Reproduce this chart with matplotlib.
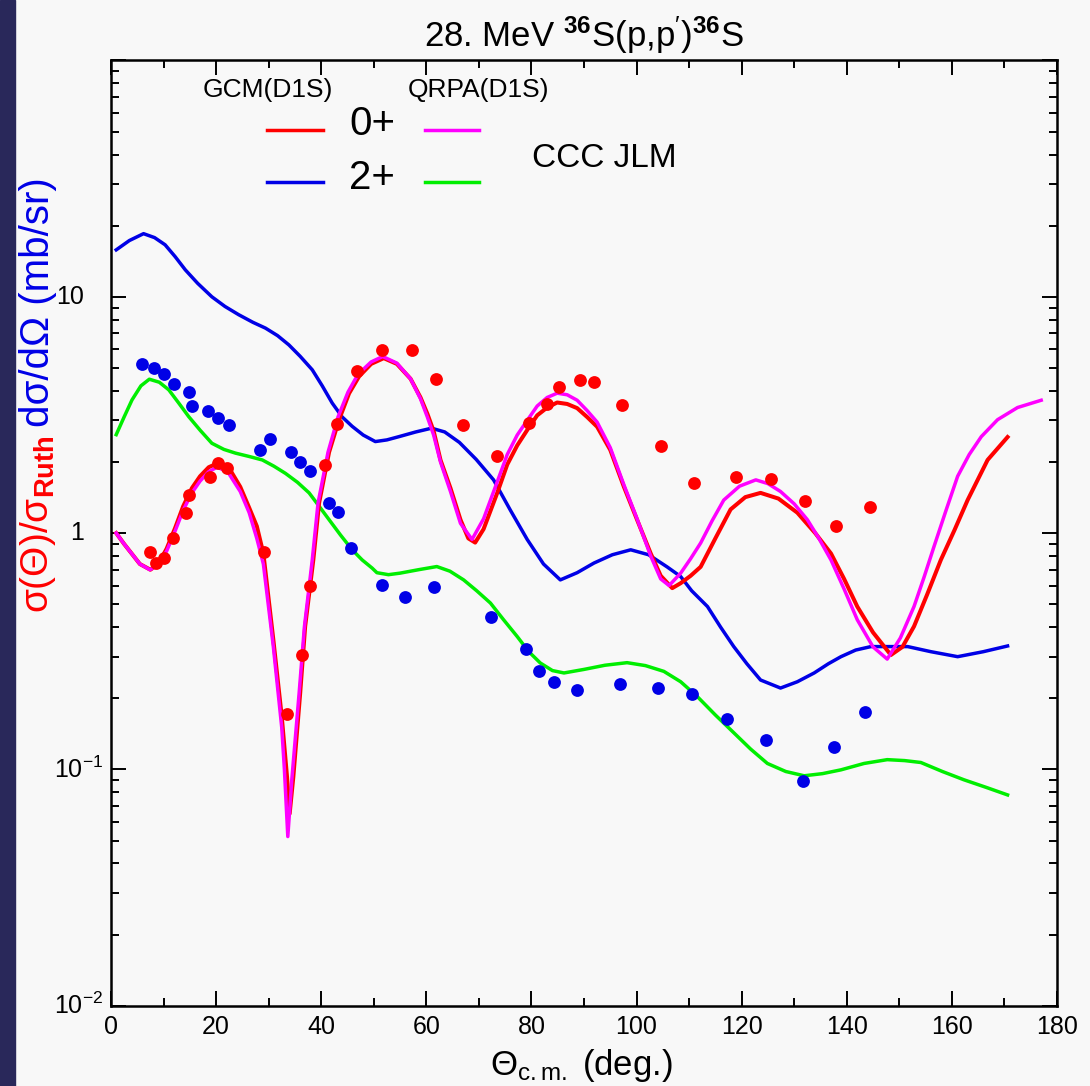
import matplotlib.pyplot as plt
import numpy as np
from matplotlib.patches import Rectangle
from matplotlib.ticker import MultipleLocator, LogLocator, NullFormatter

plt.rcParams["font.family"] = ["Liberation Sans", "DejaVu Sans"]
plt.rcParams["mathtext.fontset"] = "custom"
plt.rcParams["mathtext.rm"] = "Liberation Sans"
plt.rcParams["mathtext.it"] = "Liberation Sans"
plt.rcParams["mathtext.bf"] = "Liberation Sans:bold"

# Experimental data, 0+ (sigma/sigma_Ruth)
exp0_th = [7.4, 8.6, 10.1, 11.75, 14.3, 14.9, 18.9, 20.4, 22.0, 29.05, 33.5, 36.3, 37.9,
           40.8, 43.05, 46.9, 51.5, 57.2, 61.9, 67.0, 73.5, 79.6, 83.0, 85.2, 89.2, 92.0,
           97.3, 104.6, 110.9, 118.9, 125.5, 132.0, 137.9, 144.4]
exp0_val = [0.836, 0.751, 0.786, 0.955, 1.22, 1.45, 1.72, 1.98, 1.89, 0.836, 0.172, 0.305, 0.600,
            1.95, 2.90, 4.83, 5.97, 5.97, 4.50, 2.86, 2.12, 2.92, 3.53, 4.15, 4.45, 4.37,
            3.48, 2.33, 1.63, 1.72, 1.69, 1.37, 1.07, 1.29]

# Experimental data, 2+ (mb/sr)
exp2_th = [6.0, 8.1, 10.0, 11.9, 14.9, 15.5, 18.4, 20.3, 22.4, 28.3, 30.35, 34.3, 35.9, 37.8,
           41.5, 43.2, 45.7, 51.6, 55.9, 61.5, 72.4, 79.0, 81.4, 84.25, 88.6, 96.8, 104.1,
           110.6, 117.2, 124.6, 131.6, 137.5, 143.5]
exp2_val = [5.21, 4.99, 4.71, 4.28, 3.97, 3.44, 3.29, 3.07, 2.87, 2.25, 2.51, 2.20, 2.00, 1.84,
            1.34, 1.23, 0.864, 0.604, 0.539, 0.594, 0.441, 0.323, 0.260, 0.234, 0.216, 0.230, 0.221,
            0.208, 0.163, 0.133, 0.0895, 0.124, 0.175]

# GCM(D1S) 0+
gcm0_th = [1.0, 2.5, 5.5, 7.5, 9.0, 10.6, 12.2, 13.75, 15.4, 16.95, 18.6, 20.4, 22.5, 24.6,
           26.3, 27.75, 29.0, 30.9, 32.5, 33.5, 34.0, 34.7, 36.0, 36.95, 38.5, 39.6, 41.5,
           43.4, 45.3, 47.2, 49.5, 51.9, 54.4, 57.0, 58.9, 60.2, 61.4, 62.7, 64.6, 66.5, 68.0,
           69.3, 70.9, 73.5, 75.4, 77.3, 79.2, 81.1, 83.0, 84.9, 86.8, 88.7, 90.6, 92.5, 95.0,
           97.6, 100.1, 102.7, 104.6, 106.8, 108.4, 110.3, 112.2, 115.0, 117.9, 120.7, 123.6,
           127.0, 130.6, 134.0, 137.0, 139.5, 142.0, 145.0, 148.4, 150.6, 152.8, 155.3, 157.9,
           160.5, 163.0, 166.8, 170.6]
gcm0_val = [1.00, 0.90, 0.74, 0.70, 0.74, 0.86, 1.05, 1.30, 1.55, 1.74, 1.90, 1.98, 1.88, 1.57,
            1.28, 1.07, 0.82, 0.353, 0.167, 0.093, 0.065, 0.093, 0.210, 0.403, 0.77, 1.34, 2.20,
            3.02, 3.90, 4.60, 5.20, 5.50, 5.20, 4.50, 3.75, 3.20, 2.70, 2.04, 1.55, 1.14, 0.95,
            0.912, 1.04, 1.48, 1.95, 2.35, 2.73, 3.15, 3.40, 3.57, 3.52, 3.38, 3.10, 2.82, 2.25,
            1.57, 1.14, 0.82, 0.66, 0.585, 0.614, 0.66, 0.72, 0.95, 1.26, 1.42, 1.48,
            1.40, 1.22, 1.00, 0.82, 0.64, 0.489, 0.38, 0.305, 0.33, 0.403, 0.55, 0.77,
            1.03, 1.38, 2.04, 2.55]

# QRPA(D1S) 0+
qrpa0_th = [1.0, 2.5, 5.5, 7.4, 9.0, 10.6, 12.2, 13.75, 15.4, 16.95, 18.6, 20.2, 22.2, 24.6,
            26.3, 27.75, 29.0, 30.9, 32.5, 33.0, 33.65, 34.4, 35.8, 36.8, 38.3, 39.4, 41.3,
            43.2, 45.1, 47.0, 49.5, 51.7, 54.4, 57.0, 58.9, 60.2, 61.4, 62.7, 64.6, 66.5, 68.7,
            70.9, 73.5, 75.4, 77.3, 79.2, 81.1, 83.0, 84.9, 86.8, 88.7, 90.6, 92.5, 95.0, 97.6,
            100.1, 102.7, 104.6, 106.2, 108.4, 110.3, 112.2, 114.4, 116.6, 119.6, 122.7, 125.0,
            127.4, 130.0, 132.5, 134.7, 137.0, 139.5, 142.0, 145.0, 147.7, 150.2, 152.8, 154.7,
            156.6, 158.9, 161.1, 163.3, 165.6, 168.7, 172.5, 177.0]
qrpa0_val = [1.00, 0.90, 0.74, 0.70, 0.73, 0.84, 1.02, 1.25, 1.48, 1.66, 1.82, 1.90, 1.82, 1.50,
             1.22, 0.95, 0.74, 0.33, 0.15, 0.10, 0.052, 0.09, 0.21, 0.40, 0.77, 1.34, 2.20,
             3.10, 3.95, 4.70, 5.30, 5.59, 5.24, 4.50, 3.70, 3.10, 2.60, 2.00, 1.50, 1.10, 0.94,
             1.15, 1.65, 2.15, 2.60, 3.00, 3.45, 3.75, 3.91, 3.85, 3.65, 3.30, 2.95, 2.30, 1.60,
             1.15, 0.80, 0.64, 0.60, 0.677, 0.78, 0.908, 1.13, 1.38, 1.58, 1.68, 1.62,
             1.50, 1.33, 1.14, 0.95, 0.77, 0.58, 0.43, 0.33, 0.293, 0.36, 0.489, 0.65,
             0.877, 1.25, 1.74, 2.15, 2.56, 3.02, 3.40, 3.65]

# GCM(D1S) 2+
gcm2_th = [1.0, 3.5, 6.2, 8.3, 10.3, 12.2, 14.15, 16.5, 19.2, 21.7, 24.3, 27.0, 29.4, 31.7,
           33.85, 36.0, 38.3, 40.2, 42.1, 44.0, 45.9, 48.0, 50.3, 52.5, 54.8, 58.0, 61.0, 63.5,
           66.3, 69.5, 72.8, 76.0, 79.2, 82.3, 85.5, 88.7, 91.9, 95.4, 98.9, 102.3, 105.8, 108.4,
           110.5, 113.5, 116.0, 118.5, 121.0, 123.6, 127.4, 130.6, 133.8, 136.5, 138.9, 141.7,
           144.6, 151.6, 156.0, 161.1, 166.0, 170.6]
gcm2_val = [15.8, 17.3, 18.5, 17.8, 16.6, 14.8, 13.0, 11.4, 10.0, 9.1, 8.4, 7.8, 7.37, 6.85,
            6.26, 5.6, 4.91, 4.2, 3.55, 3.1, 2.83, 2.6, 2.44, 2.48, 2.56, 2.68, 2.78, 2.68,
            2.42, 2.05, 1.68, 1.25, 0.94, 0.74, 0.634, 0.68, 0.747, 0.81, 0.85, 0.81, 0.72, 0.655,
            0.57, 0.489, 0.40, 0.331, 0.28, 0.239, 0.221, 0.235, 0.256, 0.28, 0.30, 0.32,
            0.331, 0.331, 0.315, 0.30, 0.315, 0.333]

# CCC JLM 2+
jlm2_th = [1.0, 2.5, 4.0, 5.7, 7.3, 9.2, 11.0, 12.9, 14.8, 17.0, 19.2, 21.5, 23.7, 26.3, 28.8,
           31.0, 33.2, 35.5, 37.7, 39.6, 41.5, 43.7, 45.9, 47.8, 49.7, 50.6, 52.8, 55.0, 58.5,
           62.0, 64.5, 67.1, 69.6, 72.2, 74.7, 77.3, 79.5, 81.7, 84.0, 86.2, 90.0, 94.0, 98.2,
           101.7, 105.2, 108.4, 111.6, 115.0, 118.5, 121.7, 124.9, 128.4, 131.9, 135.4, 138.9,
           143.3, 147.7, 151.0, 154.1, 158.2, 162.3, 166.5, 170.6]
jlm2_val = [2.61, 3.10, 3.66, 4.20, 4.48, 4.35, 4.04, 3.55, 3.11, 2.72, 2.40, 2.26, 2.18, 2.11,
            2.04, 1.92, 1.79, 1.64, 1.48, 1.30, 1.14, 0.98, 0.85, 0.77, 0.711, 0.68, 0.667, 0.677,
            0.70, 0.722, 0.69, 0.634, 0.57, 0.506, 0.43, 0.365, 0.315, 0.282, 0.262, 0.256, 0.265,
            0.276, 0.283, 0.275, 0.26, 0.235, 0.203, 0.17, 0.143, 0.122, 0.106, 0.098, 0.094,
            0.096, 0.0996, 0.106, 0.110, 0.109, 0.107, 0.098, 0.0904, 0.084, 0.078]

ytick_vals = [0.01, 0.1, 1, 10]
ytick_text = ["$10^{-2}$", "$10^{-1}$", "1", "10"]

RED = "#ff0000"
BLUE = "#0000e6"
GREEN = "#00ee00"
MAGENTA = "#ff00ff"
BG = "#f8f8f8"

fig = plt.figure(figsize=(10.9, 10.86), dpi=100, facecolor=BG)
fig.patches.append(Rectangle((0, 0), 15 / 1090, 1, transform=fig.transFigure,
                             color="#29285a", zorder=0))
ax = fig.add_axes([0.1018, 0.0739, 0.8679, 0.8704], facecolor=BG)

ax.plot(gcm2_th, gcm2_val, color=BLUE, lw=2.5, solid_joinstyle="round")
ax.plot(jlm2_th, jlm2_val, color=GREEN, lw=2.5, solid_joinstyle="round")
ax.plot(gcm0_th, gcm0_val, color=RED, lw=2.9, solid_joinstyle="round")
ax.plot(qrpa0_th, qrpa0_val, color=MAGENTA, lw=2.5, solid_joinstyle="round")
ax.scatter(exp0_th, exp0_val, s=85, color=RED, zorder=5, linewidths=0)
ax.scatter(exp2_th, exp2_val, s=85, color=BLUE, zorder=5, linewidths=0)

ax.set_yscale("log")
ax.set_xlim(0, 180)
ax.set_ylim(0.01, 100)
ax.xaxis.set_major_locator(MultipleLocator(20))
ax.xaxis.set_minor_locator(MultipleLocator(10))
ax.yaxis.set_major_locator(LogLocator(base=10, numticks=10))
ax.yaxis.set_minor_locator(LogLocator(base=10, subs=np.arange(2, 10), numticks=20))
ax.yaxis.set_major_formatter(NullFormatter())
ax.yaxis.set_minor_formatter(NullFormatter())
ax.tick_params(which="both", direction="in", top=True, right=True, width=1.4, color="black")
ax.tick_params(which="major", length=11)
ax.tick_params(which="minor", length=5.5)
ax.tick_params(axis="x", labelsize=18, pad=7)
for s in ax.spines.values():
    s.set_linewidth(1.8)

# y tick labels
for v, t in zip(ytick_vals, ytick_text):
    xo = -0.0085 if "^" in t else -0.0285
    ax.text(xo, v, t, transform=ax.get_yaxis_transform(), ha="right", va="center",
            fontsize=18)

# legend block
tr = ax.transAxes
ax.text(0.166, 0.969, "GCM(D1S)", transform=tr, ha="center", va="center", fontsize=19)
ax.text(0.389, 0.969, "QRPA(D1S)", transform=tr, ha="center", va="center", fontsize=19)
ax.plot([0.165, 0.224], [0.926, 0.926], transform=tr, color=RED, lw=2.5)
ax.plot([0.332, 0.389], [0.926, 0.926], transform=tr, color=MAGENTA, lw=2.5)
ax.plot([0.165, 0.224], [0.871, 0.871], transform=tr, color=BLUE, lw=2.5)
ax.plot([0.332, 0.389], [0.871, 0.871], transform=tr, color=GREEN, lw=2.5)
ax.text(0.276, 0.933, "0+", transform=tr, ha="center", va="center", fontsize=29)
ax.text(0.276, 0.876, "2+", transform=tr, ha="center", va="center", fontsize=29)
ax.text(0.522, 0.896, "CCC JLM", transform=tr, ha="center", va="center", fontsize=24)

# titles and axis labels
fig.text(0.536, 0.968, "28. MeV $^{\\mathbf{36}}$S(p,p$'$)$^{\\mathbf{36}}$S",
         ha="center", va="center", fontsize=25)
fig.text(0.533, 0.019, "$\\Theta_{\\rm c.m.}$ (deg.)", ha="center", va="center", fontsize=25)
fig.text(0.035, 0.4355, "σ(Θ)/σ$_{\\mathbf{Ruth}}$", color=RED, rotation=90,
         ha="center", va="bottom", fontsize=28)
fig.text(0.035, 0.607, "dσ/dΩ (mb/sr)", color=BLUE, rotation=90,
         ha="center", va="bottom", fontsize=29)

plt.savefig("out.png", dpi=100, facecolor=BG)
